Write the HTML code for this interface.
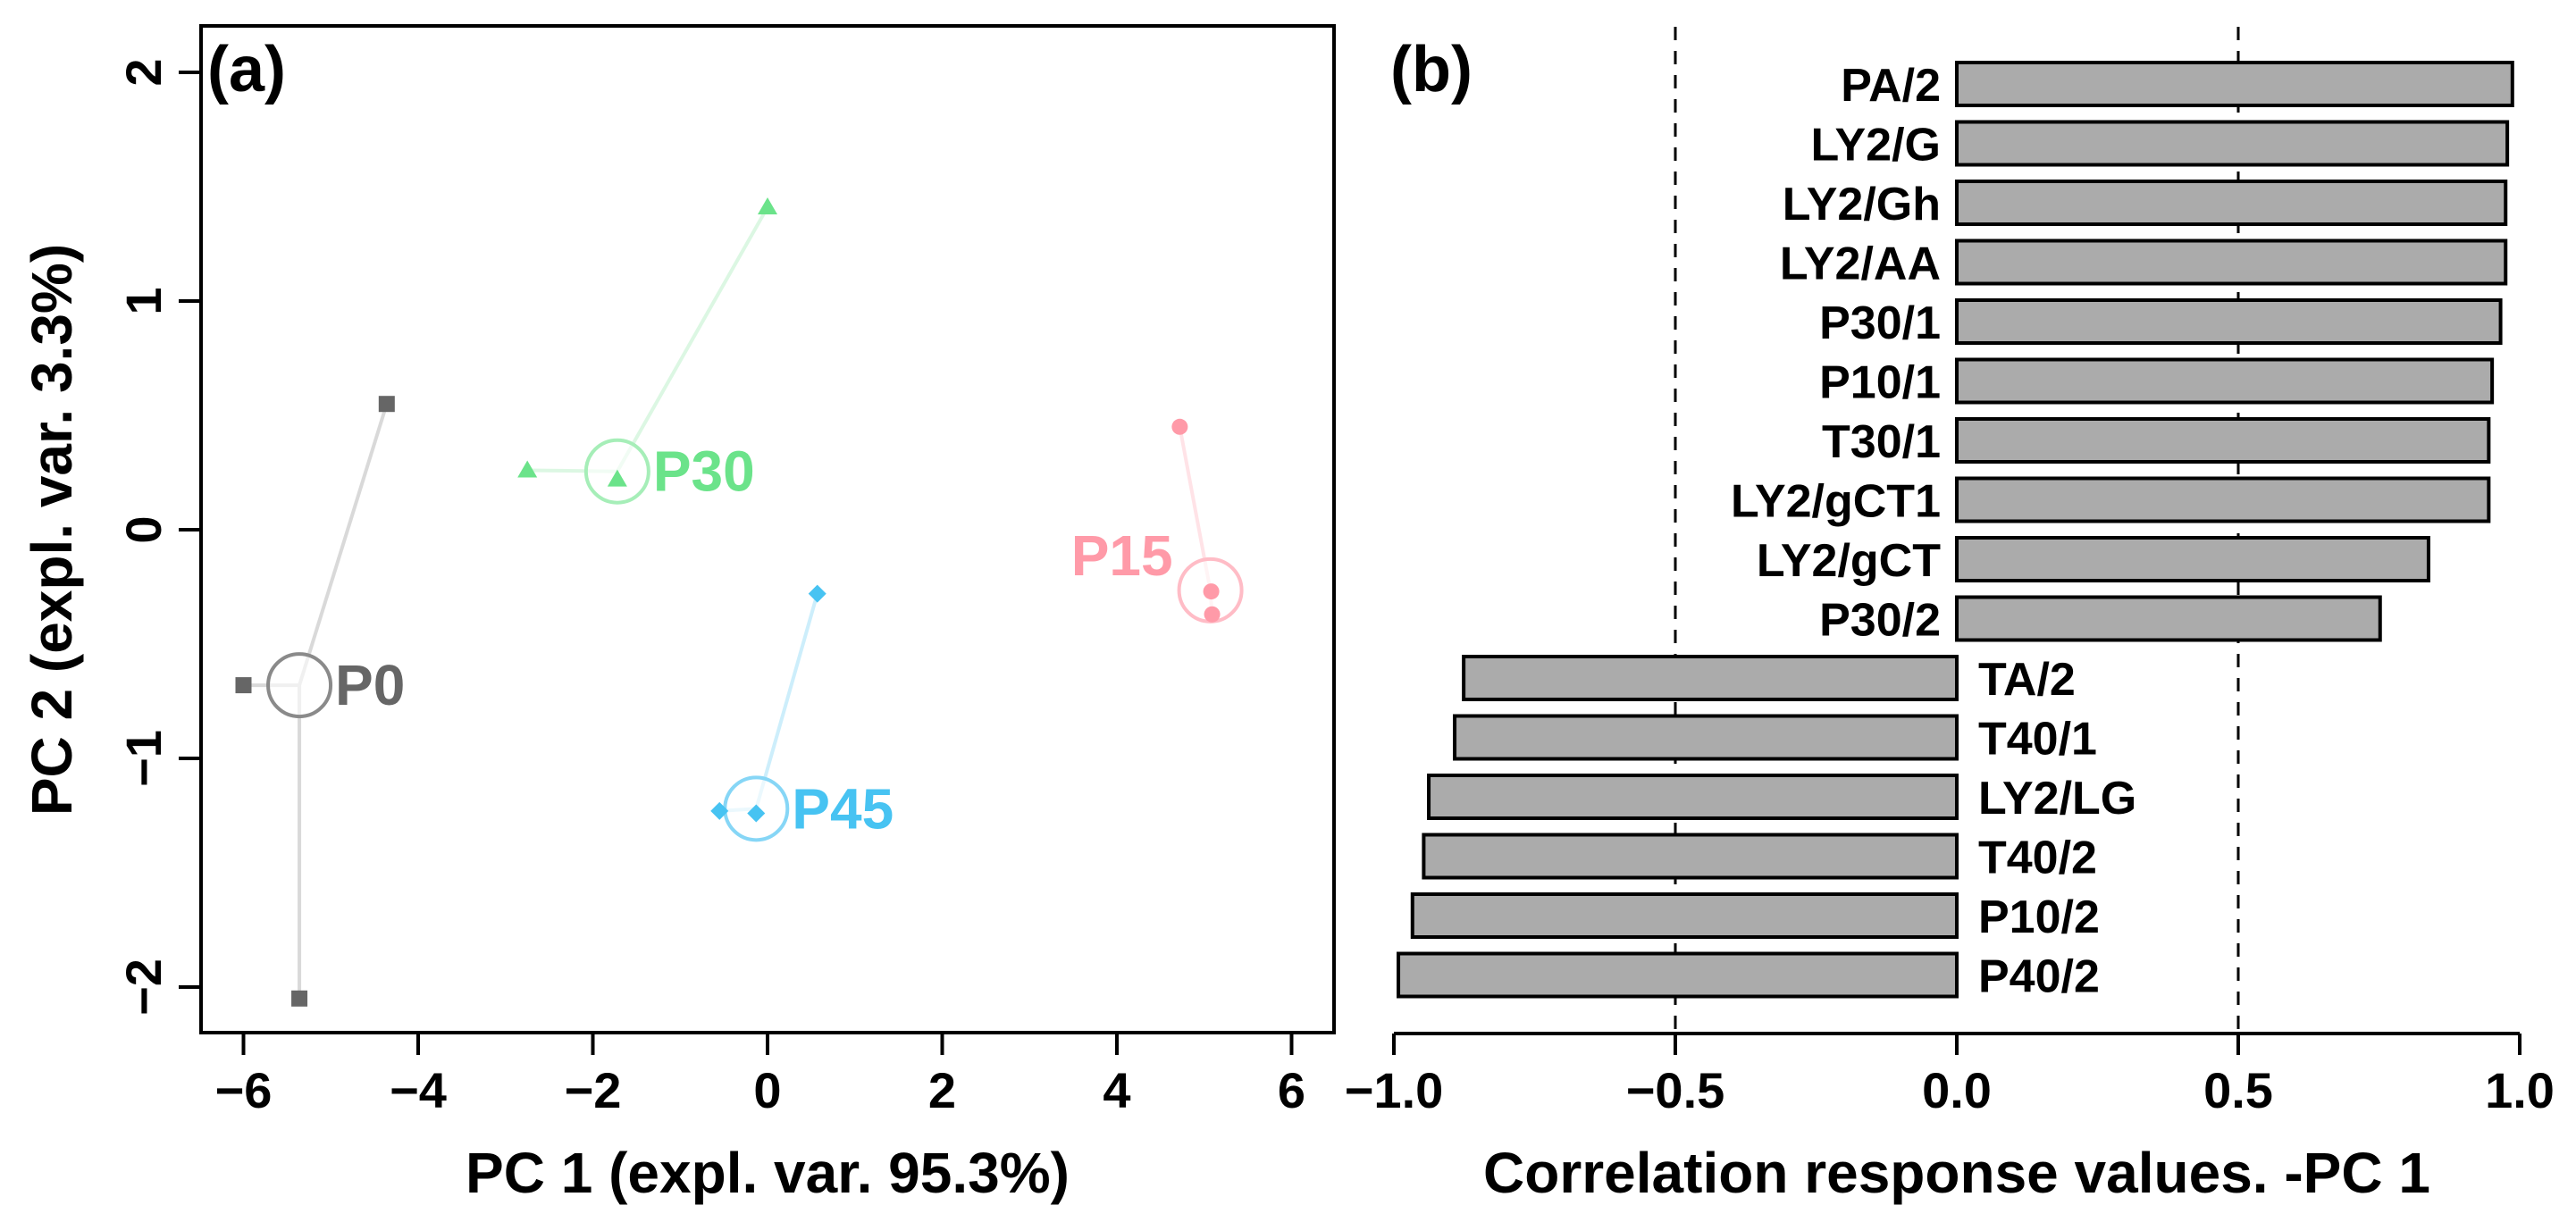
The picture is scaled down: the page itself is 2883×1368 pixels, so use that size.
<!DOCTYPE html>
<html><head><meta charset="utf-8"><style>
html,body{margin:0;padding:0;background:#fff;}
svg{display:block;font-family:"Liberation Sans",Arial,sans-serif;font-weight:bold;}
</style></head><body>
<svg id="chart" width="2883" height="1368" viewBox="0 0 2883 1368" xmlns="http://www.w3.org/2000/svg">
<g id="left"></g>
<g id="right"></g>
</svg>
<script>
// ---- Panel (a) data ----
const groups = ["P0","P30","P15","P45"];
const groupColors = ["#666666","#6be38a","#ff9aa8","#47c3f2"];
const groupLineColors = ["#d9d9d9","#dcf7e3","#ffe3e7","#cdeefb"];
const groupCircleColors = ["#8a8a8a","#a6eeb8","#ffbcc6","#86d6f6"];
const p0X = [-4.36,-6.0,-5.36];   const p0Y = [0.55,-0.68,-2.05];
const p30X = [0.0,-2.75,-1.72];   const p30Y = [1.41,0.26,0.22];
const p15X = [4.72,5.08,5.09];    const p15Y = [0.45,-0.27,-0.37];
const p45X = [0.57,-0.55,-0.13];  const p45Y = [-0.28,-1.23,-1.24];
const centroidX = [-5.36,-1.72,5.07,-0.13];
const centroidY = [-0.68,0.255,-0.265,-1.22];
const xTicksA = [-6,-4,-2,0,2,4,6];
const yTicksA = [-2,-1,0,1,2];
// ---- Panel (b) data ----
const varNames = ["PA/2","LY2/G","LY2/Gh","LY2/AA","P30/1","P10/1","T30/1","LY2/gCT1","LY2/gCT","P30/2","TA/2","T40/1","LY2/LG","T40/2","P10/2","P40/2"];
const corrValues = [0.987,0.978,0.975,0.975,0.966,0.951,0.945,0.945,0.838,0.752,-0.876,-0.892,-0.938,-0.947,-0.967,-0.992];
const xTicksB = [-1.0,-0.5,0.0,0.5,1.0];
const xTickLabelsB = ["\u22121.0","\u22120.5","0.0","0.5","1.0"];
const refLines = [-0.5,0.5];

const NS="http://www.w3.org/2000/svg";
function mk(parent,tag,attrs,text){const e=document.createElementNS(NS,tag);for(const k in attrs)e.setAttribute(k,attrs[k]);if(text!==undefined)e.textContent=text;parent.appendChild(e);return e;}

// Panel a scales
const L=document.getElementById('left');
const ax=v=>859+v*97.75;
const ay=v=>593-v*256;
const box=mk(L,'rect',{x:225,y:29,width:1268,height:1127,fill:'none',stroke:'#000','stroke-width':4});


xTicksA.forEach(t=>{
  const l=mk(L,'line',{x1:ax(t),x2:ax(t),y1:1156,y2:1181,stroke:'#000','stroke-width':4});
  
  
  const tx=mk(L,'text',{x:ax(t),y:1240,'font-size':56,'text-anchor':'middle'},t<0?'\u2212'+Math.abs(t):String(t));
  
  
});
yTicksA.forEach(t=>{
  const l=mk(L,'line',{x1:200,x2:225,y1:ay(t),y2:ay(t),stroke:'#000','stroke-width':4});
  
  
  const tx=mk(L,'text',{x:0,y:0,'font-size':56,'text-anchor':'middle',transform:`translate(180,${ay(t)}) rotate(-90)`},t<0?'\u2212'+Math.abs(t):String(t));
  
  
});
const xt=mk(L,'text',{x:859,y:1335,'font-size':64,'text-anchor':'middle'},'PC 1 (expl. var. 95.3%)');


const yt=mk(L,'text',{x:0,y:0,'font-size':64,'text-anchor':'middle',transform:'translate(80,593) rotate(-90)'},'PC 2 (expl. var. 3.3%)');


const pa=mk(L,'text',{x:232,y:102,'font-size':72},'(a)');



const gx=[p0X,p30X,p15X,p45X], gy=[p0Y,p30Y,p15Y,p45Y];
const R=35;
groups.forEach((g,i)=>{
  const cx=ax(centroidX[i]), cy=ay(centroidY[i]);
  gx[i].forEach((v,j)=>{
    const px=ax(v), py=ay(gy[i][j]);
    const ln=mk(L,'line',{x1:cx,y1:cy,x2:px,y2:py,stroke:groupLineColors[i],'stroke-width':4});
    
    
  });
  const c=mk(L,'circle',{cx:cx,cy:cy,r:R,fill:'#fff','fill-opacity':0.6,stroke:groupCircleColors[i],'stroke-width':4});
  
  
  gx[i].forEach((v,j)=>{
    const px=ax(v), py=ay(gy[i][j]); let m;
    if(i===0) m=mk(L,'rect',{x:px-9,y:py-9,width:18,height:18,fill:groupColors[i]});
    else if(i===1) m=mk(L,'polygon',{points:`${px},${py-11} ${px-11},${py+8} ${px+11},${py+8}`,fill:groupColors[i]});
    else if(i===2) m=mk(L,'circle',{cx:px,cy:py,r:9,fill:groupColors[i]});
    else m=mk(L,'polygon',{points:`${px},${py-10} ${px+10},${py} ${px},${py+10} ${px-10},${py}`,fill:groupColors[i]});
    
    
  });
  let lab;
  if(i===2) lab=mk(L,'text',{x:cx-42,y:cy-17,'font-size':64,'text-anchor':'end',fill:groupColors[i]},g);
  else lab=mk(L,'text',{x:cx+R+5,y:cy+22,'font-size':64,fill:groupColors[i]},g);
  
  
});

// Panel b
const B=document.getElementById('right');
const bx=v=>2190+v*630;
const barTop0=70, pitch=66.5, barH=48;
refLines.forEach(v=>{
  const l=mk(B,'line',{x1:bx(v),x2:bx(v),y1:30,y2:1157,stroke:'#000','stroke-width':3,'stroke-dasharray':'15 12'});
  
  
});
varNames.forEach((n,i)=>{
  const v=corrValues[i];
  const y=barTop0+i*pitch;
  const x0=Math.min(bx(0),bx(v)), w=Math.abs(bx(v)-bx(0));
  const r=mk(B,'rect',{x:x0,y:y,width:w,height:barH,fill:'#ababab',stroke:'#000','stroke-width':4});
  
  
  const t=v>=0?mk(B,'text',{x:bx(0)-18,y:y+barH/2+19,'font-size':52,'text-anchor':'end'},n)
              :mk(B,'text',{x:bx(0)+24,y:y+barH/2+19,'font-size':52,'text-anchor':'start'},n);
  
  
});
const axl=mk(B,'line',{x1:bx(-1),x2:bx(1),y1:1157,y2:1157,stroke:'#000','stroke-width':4});


xTicksB.forEach((t,i)=>{
  const l=mk(B,'line',{x1:bx(t),x2:bx(t),y1:1157,y2:1181,stroke:'#000','stroke-width':4});
  
  
  const tx=mk(B,'text',{x:bx(t),y:1240,'font-size':56,'text-anchor':'middle'},xTickLabelsB[i]);
  
  
});
const xtb=mk(B,'text',{x:2190,y:1335,'font-size':64,'text-anchor':'middle'},'Correlation response values. -PC 1');


const pb=mk(B,'text',{x:1556,y:102,'font-size':72},'(b)');


</script>
</body></html>
